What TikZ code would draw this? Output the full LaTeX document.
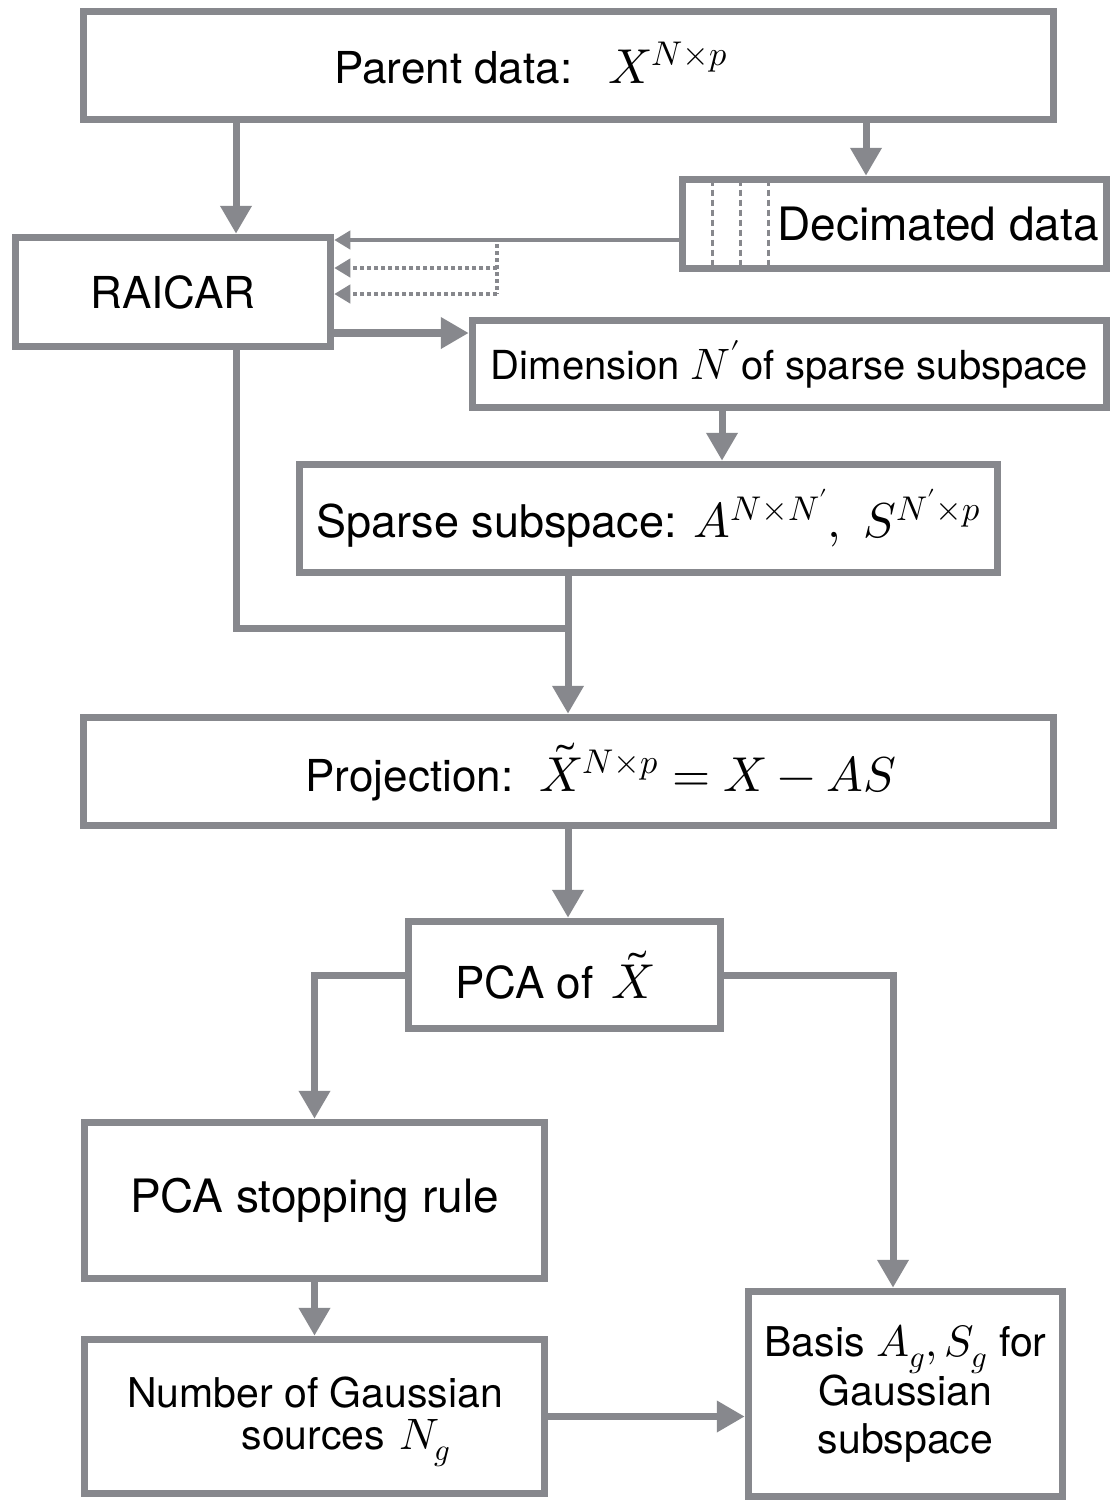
\documentclass[tikz,border=0pt]{standalone}
\usepackage{fontspec}
\usepackage{unicode-math}
\setmainfont{TeX Gyre Heros}
\setmathfont{Latin Modern Math}
\usetikzlibrary{arrows.meta}
\definecolor{frame}{RGB}{135,136,141}
\newcommand{\mth}[2]{{\fontsize{#1}{#1}\selectfont$#2$}}
\newcommand{\fsz}[1]{\fontsize{#1}{#1}\selectfont}
\begin{document}
\begin{tikzpicture}[x=1pt,y=-1pt,
  box/.style={draw=frame,line width=7.5pt,fill=white,rectangle,inner sep=0pt},
  lbl/.style={inner sep=0pt,font=\fsz{44}},
  conn/.style={draw=frame,line width=7pt,-{Triangle[length=28pt,width=30pt]}},
  plain/.style={draw=frame,line width=7pt},
  thin/.style={draw=frame,line width=4pt,-{Triangle[length=16pt,width=18pt]}},
  dotl/.style={draw=frame,line width=4pt,dash pattern=on 4pt off 3pt},
  dotarrow/.style={dotl,-{Triangle[length=16pt,width=18pt]}},
  vdot/.style={draw=frame,line width=3pt,dash pattern=on 6pt off 4pt}]
\useasboundingbox (0,0) rectangle (1119,1500);
\fill[white] (0,0) rectangle (1119,1500);

% boxes
\node[box,minimum width=970pt,minimum height=108pt] (parent) at (568.5,65.5) {};
\node[box,minimum width=424pt,minimum height=89pt] (dec) at (894.5,224) {};
\node[box,minimum width=315pt,minimum height=109pt,lbl] (raicar) at (173,292) {RAICAR};
\node[box,minimum width=634pt,minimum height=87pt,lbl,font=\fsz{40}] (dim) at (789.5,364) {Dimension \mth{44}{N'}of sparse subspace};
\node[box,minimum width=698pt,minimum height=108pt,lbl,font=\fsz{45}] (sparse) at (648.5,518.5) {Sparse subspace: \mth{49}{A^{N\times N'},\ S^{N'\times p}}};
\node[box,minimum width=970pt,minimum height=108pt] (proj) at (568.5,771.5) {};
\node[box,minimum width=312pt,minimum height=107pt] (pca) at (564.5,975) {};
\node[box,minimum width=460pt,minimum height=156pt,lbl,font=\fsz{46}] (stop) at (314.5,1200.5) {PCA stopping rule};
\node[box,minimum width=460pt,minimum height=154pt] (num) at (314.5,1416.5) {};
\node[box,minimum width=314pt,minimum height=205pt,lbl,align=center,font=\fontsize{41}{48.5}\selectfont] (basis) at (905.5,1394) {Basis \mth{44}{A_g,S_g} for\\Gaussian\\subspace};

% texts placed off-centre
\node[lbl] (parenttxt) at (531,63) {Parent data:\hspace{36pt}\mth{49}{X^{N\times p}}};
\node[lbl,font=\fsz{46}] (dectxt) at (938,224) {Decimated data};
\node[lbl] (projtxt) at (601,772) {Projection:\hspace{26pt}\mth{49}{\tilde{X}^{N\times p}=X-AS}};
\node[lbl] (pcatxt) at (555,975) {PCA of\hspace{18pt}\mth{49}{\tilde{X}}};
\node[lbl,font=\fsz{41}] (numa) at (315,1393) {Number of Gaussian};
\node[lbl,font=\fsz{41}] (numb) at (346,1443) {sources\hspace{14pt}\mth{44}{N_g}};

% dotted lines inside decimated box
\coordinate (v1) at (712,0);
\coordinate (v2) at (740,0);
\coordinate (v3) at (768,0);
\draw[vdot] ([yshift=-3.75pt]dec.north -| v1) -- ([yshift=3.75pt]dec.south -| v1);
\draw[vdot] ([yshift=-3.75pt]dec.north -| v2) -- ([yshift=3.75pt]dec.south -| v2);
\draw[vdot] ([yshift=-3.75pt]dec.north -| v3) -- ([yshift=3.75pt]dec.south -| v3);

% helper coordinates
\coordinate (xa) at (236,0);
\coordinate (xb) at (866,0);
\coordinate (ya) at (0,240);
\coordinate (d1) at (497,244);
\coordinate (d2) at (497,268);
\coordinate (d3) at (497,294);
\coordinate (yb) at (0,333);
\coordinate (xc) at (722,0);
\coordinate (j) at (568,628);
\coordinate (xd) at (893,0);

% connectors
\draw[conn] (parent.south -| xa) -- (raicar.north -| xa);
\draw[conn] (parent.south -| xb) -- (dec.north -| xb);
\draw[thin] (dec.west |- ya) -- (raicar.east |- ya);
\draw[dotl] (d1) -- (d3);
\draw[dotarrow] (d2) -- (raicar.east |- d2);
\draw[dotarrow] (d3) -- (raicar.east |- d3);
\draw[conn,line width=8.5pt] (raicar.east |- yb) -- (dim.west |- yb);
\draw[conn] (dim.south -| xc) -- (sparse.north -| xc);
\draw[plain] (raicar.south -| xa) |- (j);
\draw[plain] (sparse.south -| j) -- (j);
\draw[conn] (j) -- (proj.north -| j);
\draw[conn] (proj.south -| j) -- (pca.north -| j);
\draw[conn] (pca.west) -| (stop.north);
\draw[conn] (pca.east) -| (basis.north -| xd);
\draw[conn] (stop.south) -- (num.north);
\draw[conn] (num.east) -- (num.east -| basis.west);
\end{tikzpicture}
\end{document}
